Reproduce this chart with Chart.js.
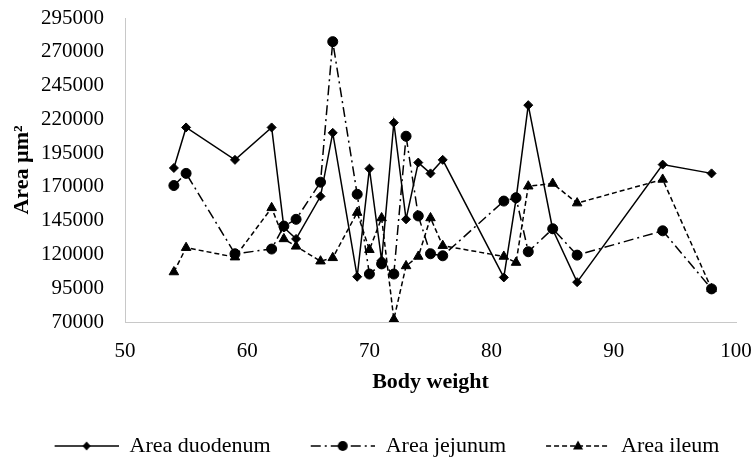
<!DOCTYPE html>
<html>
<head>
<meta charset="utf-8">
<script src="https://cdn.jsdelivr.net/npm/chart.js"></script>
<style>
  body { margin: 0; background: #fff; }
  #wrap { width: 754px; height: 461px; }
</style>
</head>
<body>
<div id="wrap"><canvas id="chart" width="754" height="461"></canvas></div>
<script>
const bodyWeight = [54, 55, 59, 62, 63, 64, 66, 67, 69, 70, 71, 72, 73, 74, 75, 76, 81, 82, 83, 85, 87, 94, 98];
const areaDuodenum = [184000, 214000, 190000, 214000, 140000, 131500, 163000, 210000, 103500, 183500, 115500, 217500,
  146000, 188000, 180000, 190000, 103000, 161000, 230500, 138500, 99500, 186500, 180000];
const areaJejunum = [171000, 180000, 120500, 124000, 141000, 146000, 173500, 277500, 164500, 105500, 113000, 105500,
  207500, 148500, 120500, 119000, 159500, 162000, 122000, 139000, 119500, 137500, 94500];
const areaIleum = [107000, 125000, 118000, 154500, 131500, 126000, 115000, 117500, 151000, 123500, 147000, 72000,
  111500, 118500, 147000, 126500, 118500, 114000, 170500, 172500, 158000, 175500, 94500];
const seriesNames = ["Area duodenum", "Area jejunum", "Area ileum"];
const yTicks = { min: 70000, max: 295000, step: 25000 };
const xTicks = { min: 50, max: 100, step: 10 };

const FONT = "'Liberation Serif', 'Times New Roman', serif";
const dashes = [[], [10, 4, 2, 4], [5, 3]];
const styles = ["rectRot", "circle", "triangle"];
const radii = [4.5, 5, 5.5];

function toPoints(values) {
  return values.map((v, i) => ({ x: bodyWeight[i], y: v }));
}

// legend sample: line with the marker in its middle
function legendImage(dash, style) {
  const c = document.createElement("canvas");
  c.width = 102;
  c.height = 14;
  const g = c.getContext("2d");
  g.strokeStyle = "#000";
  g.fillStyle = "#000";
  g.lineWidth = 1.5;
  g.setLineDash(dash);
  g.beginPath();
  g.moveTo(38, 7);
  g.lineTo(102, 7);
  g.stroke();
  g.setLineDash([]);
  const cx = 70, cy = 7;
  g.beginPath();
  if (style === "rectRot") {
    g.moveTo(cx, cy - 4.5); g.lineTo(cx + 4, cy); g.lineTo(cx, cy + 4.5); g.lineTo(cx - 4, cy);
  } else if (style === "circle") {
    g.arc(cx, cy, 5, 0, Math.PI * 2);
  } else {
    g.moveTo(cx, cy - 5.5); g.lineTo(cx + 5, cy + 3.5); g.lineTo(cx - 5, cy + 3.5);
  }
  g.closePath();
  g.fill();
  return c;
}

const legendImages = styles.map((s, i) => legendImage(dashes[i], s));

const datasets = [areaDuodenum, areaJejunum, areaIleum].map((vals, i) => ({
  label: seriesNames[i],
  data: toPoints(vals),
  borderColor: "#000",
  backgroundColor: "#000",
  borderWidth: 1.5,
  borderDash: dashes[i],
  pointStyle: styles[i],
  pointRadius: radii[i],
  pointBorderWidth: 1,
  pointBackgroundColor: "#000",
  pointBorderColor: "#000",
  tension: 0,
  fill: false,
}));

// drop the label overflow padding so the layout padding alone places the plot area
function noOverflow(scale) {
  scale.paddingLeft = 0;
  scale.paddingRight = 0;
  scale.paddingTop = 0;
  scale.paddingBottom = 0;
}

new Chart(document.getElementById("chart").getContext("2d"), {
  type: "line",
  data: { datasets },
  options: {
    responsive: false,
    animation: false,
    layout: { padding: { left: 0, right: 18, top: 18, bottom: -6 } },
    scales: {
      x: {
        type: "linear",
        min: xTicks.min,
        max: xTicks.max,
        grid: { display: false, drawTicks: false },
        border: { display: true, color: "#c8c8c8", width: 1 },
        ticks: {
          stepSize: xTicks.step,
          padding: 17,
          color: "#000",
          font: { family: FONT, size: 21 },
        },
        title: {
          display: true,
          text: "Body weight",
          color: "#000",
          font: { family: FONT, size: 22, weight: "bold" },
          padding: { top: 0, bottom: 37 },
        },
        afterFit: (scale) => { scale.height = 111; noOverflow(scale); },
      },
      y: {
        min: yTicks.min,
        max: yTicks.max,
        grid: { display: false, drawTicks: false },
        border: { display: true, color: "#c8c8c8", width: 1 },
        ticks: {
          stepSize: yTicks.step,
          padding: 21,
          color: "#000",
          font: { family: FONT, size: 21 },
          callback: (v) => String(v),
        },
        title: {
          display: true,
          text: "Area µm²",
          color: "#000",
          font: { family: FONT, size: 22, weight: "bold" },
          padding: { top: 9, bottom: 0 },
        },
        afterFit: (scale) => { scale.width = 125; noOverflow(scale); },
      },
    },
    plugins: {
      tooltip: { enabled: false },
      legend: {
        position: "bottom",
        labels: {
          usePointStyle: true,
          pointStyleWidth: 102,
          padding: 2,
          color: "#000",
          font: { family: FONT, size: 22 },
          generateLabels: (chart) =>
            Chart.defaults.plugins.legend.labels.generateLabels(chart).map((item, i) => ({
              ...item,
              pointStyle: legendImages[i],
            })),
        },
      },
    },
  },
});
</script>
</body>
</html>
